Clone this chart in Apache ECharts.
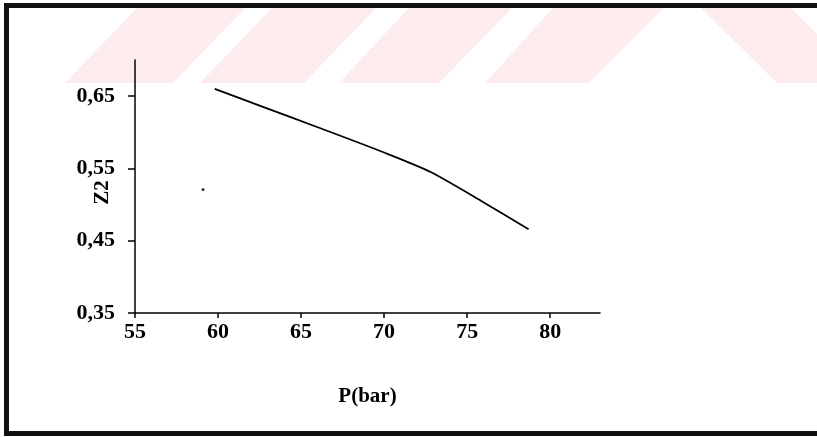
<!DOCTYPE html>
<html>
<head>
<meta charset="utf-8">
<script src="https://cdn.jsdelivr.net/npm/echarts@6/dist/echarts.min.js"></script>
<style>
html,body{margin:0;padding:0;background:#fff;}
#chart{width:817px;height:437px;}
</style>
</head>
<body>
<div id="chart"></div>
<script>
// ---- data ----
var pressure = [59.8, 62.5, 66, 70, 72.8, 76, 78.7];        // P (bar)
var z2 = [0.660, 0.637, 0.607, 0.572, 0.545, 0.503, 0.466]; // Z2
var strayP = [59.1];   // isolated dot in the scan
var strayZ = [0.521];
var xTicks = [55, 60, 65, 70, 75, 80];
var yTicks = [0.35, 0.45, 0.55, 0.65];

var FONT = '"Liberation Serif", "Times New Roman", serif';
var chart = echarts.init(document.getElementById('chart'), null, {renderer: 'canvas'});

var lineData = pressure.map(function (p, i) { return [p, z2[i]]; });
var strayData = strayP.map(function (p, i) { return [p, strayZ[i]]; });

var pink = 'rgb(253,235,238)';
function band(pts) {
  return {type: 'polygon', z: -10, silent: true, shape: {points: pts}, style: {fill: pink}};
}

chart.setOption({
  backgroundColor: '#fff',
  animation: false,
  grid: {left: 135, right: 217, top: 60, bottom: 124},
  xAxis: {
    type: 'value', min: 55, max: 83, interval: 5,
    name: 'P(bar)', nameLocation: 'middle', nameGap: 73, nameMoveOverlap: false,
    nameTextStyle: {fontFamily: FONT, fontSize: 21, fontWeight: 'bold', color: '#000'},
    axisLine: {show: true, lineStyle: {color: '#000', width: 1.5}},
    axisTick: {show: true, length: 5, lineStyle: {color: '#000', width: 1.5}, customValues: xTicks},
    axisLabel: {customValues: xTicks, margin: 8, fontFamily: FONT, fontSize: 22, fontWeight: 'bold', color: '#000'},
    splitLine: {show: false}
  },
  yAxis: {
    type: 'value', min: 0.35, max: 0.70, interval: 0.05,
    name: 'Z2', nameLocation: 'middle', nameGap: 22, nameMoveOverlap: false,
    nameTextStyle: {fontFamily: FONT, fontSize: 21, fontWeight: 'bold', color: '#000', padding: [0, 0, 0, -12]},
    axisLine: {show: true, lineStyle: {color: '#000', width: 1.5}},
    axisTick: {show: true, length: 7, lineStyle: {color: '#000', width: 1.5}, customValues: yTicks},
    axisLabel: {
      customValues: yTicks, margin: 20, fontFamily: FONT, fontSize: 22, fontWeight: 'bold', color: '#000',
      formatter: function (v) { return v.toFixed(2).replace('.', ','); }
    },
    splitLine: {show: false}
  },
  series: [
    {
      type: 'line', data: lineData, showSymbol: false, symbol: 'none', smooth: 0.25,
      lineStyle: {color: '#000', width: 1.8}, z: 3
    },
    {
      type: 'scatter', data: strayData, symbolSize: 3,
      itemStyle: {color: '#000'}, z: 3
    }
  ],
  graphic: [
    band([[65, 83], [137, 8], [245, 8], [173, 83]]),
    band([[200, 83], [272, 8], [376, 8], [304, 83]]),
    band([[339, 83], [409, 8], [512, 8], [439, 83]]),
    band([[485, 83], [553, 8], [664, 8], [589, 83]]),
    band([[777, 83], [701, 8], [791, 8], [817, 34], [817, 83]]),
    {type: 'rect', silent: true, shape: {x: 4, y: 4, width: 5, height: 432}, style: {fill: '#111'}},
    {type: 'rect', silent: true, shape: {x: 4, y: 3, width: 813, height: 5}, style: {fill: '#111'}},
    {type: 'rect', silent: true, shape: {x: 4, y: 431, width: 813, height: 5}, style: {fill: '#111'}}
  ]
});
</script>
</body>
</html>
